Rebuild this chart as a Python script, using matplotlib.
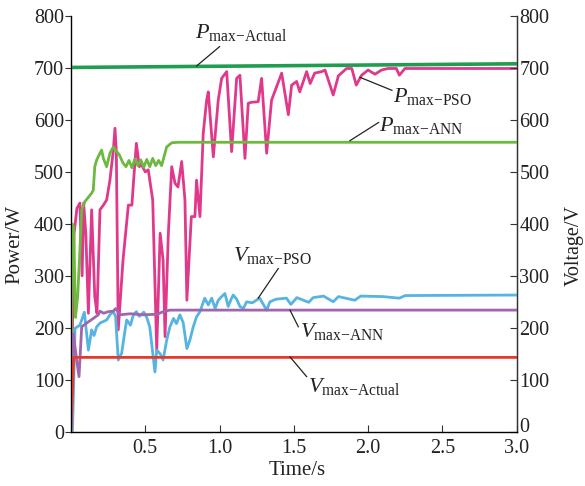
import matplotlib
matplotlib.use("Agg")
import matplotlib.pyplot as plt
import numpy as np

plt.rcParams['font.family'] = ['Liberation Serif', 'DejaVu Serif']
plt.rcParams['mathtext.fontset'] = 'custom'
plt.rcParams['mathtext.rm'] = 'Liberation Serif'
plt.rcParams['mathtext.it'] = 'Liberation Serif:italic'

# ---- data (time in s, values in W / V) ----
p_actual_t = [0.0, 3.0]
p_actual_v = [701, 708]

p_ann_t = [0.0, 0.008, 0.018, 0.03, 0.045, 0.06, 0.072, 0.094, 0.139, 0.15, 0.16, 0.173, 0.195, 0.206,
           0.218, 0.24, 0.262, 0.285, 0.30, 0.325, 0.35, 0.37, 0.39, 0.41, 0.43, 0.45, 0.47, 0.49,
           0.51, 0.53, 0.55, 0.57, 0.59, 0.61, 0.644, 0.678, 0.72, 3.0]
p_ann_v = [0, 400, 395, 220, 260, 350, 427, 443, 459, 465, 510, 523, 536, 542,
           526, 510, 536, 548, 542, 533, 517, 510, 522, 508, 525, 512, 523, 509,
           524, 510, 526, 512, 522, 512, 548, 556, 557, 557]

p_pso_t = [0.0, 0.01, 0.02, 0.04, 0.06, 0.075, 0.085, 0.1, 0.117, 0.139, 0.16, 0.175, 0.195, 0.218,
           0.24, 0.262, 0.285, 0.296, 0.305, 0.318, 0.35, 0.386, 0.41, 0.42, 0.44, 0.46, 0.47, 0.5,
           0.52, 0.55, 0.577, 0.6, 0.62, 0.633, 0.655, 0.678, 0.70, 0.72, 0.745, 0.767, 0.78, 0.81,
           0.834, 0.845, 0.868, 0.89, 0.913, 0.924, 0.958, 0.991, 1.014, 1.048, 1.081, 1.115, 1.137,
           1.171, 1.193, 1.215, 1.26, 1.283, 1.317, 1.35, 1.384, 1.418, 1.463, 1.485, 1.519, 1.54,
           1.586, 1.61, 1.64, 1.687, 1.71, 1.765, 1.8, 1.855, 1.89, 1.92, 1.956, 2.0, 2.046, 2.09,
           2.135, 2.19, 2.21, 2.248, 3.0]
p_pso_v = [0, 200, 380, 430, 440, 300, 440, 380, 228, 427, 260, 228, 427, 436,
           446, 484, 542, 584, 540, 196, 330, 436, 436, 478, 555, 510, 516, 500,
           504, 446, 157, 382, 330, 183, 380, 510, 478, 471, 520, 446, 253, 414,
           414, 484, 414, 574, 638, 654, 529, 638, 680, 693, 539, 680, 686,
           526, 632, 634, 635, 680, 536, 638, 664, 690, 610, 667, 674, 654,
           693, 670, 690, 693, 696, 648, 685, 699, 699, 667, 686, 696, 688, 696,
           699, 699, 686, 699, 699]

v_pso_t = [0.01, 0.027, 0.06, 0.09, 0.117, 0.139, 0.155, 0.173, 0.195, 0.24, 0.262, 0.285, 0.30,
           0.318, 0.341, 0.364, 0.375, 0.40, 0.42, 0.44, 0.46, 0.49, 0.51, 0.53, 0.565, 0.577,
           0.60, 0.62, 0.644, 0.666, 0.69, 0.71, 0.733, 0.755, 0.78, 0.80, 0.823, 0.845, 0.868,
           0.9, 0.924, 0.947, 0.97, 0.991, 1.014, 1.036, 1.058, 1.081, 1.092, 1.115, 1.137, 1.16,
           1.182, 1.22, 1.27, 1.317, 1.339, 1.38, 1.45, 1.48, 1.52, 1.6, 1.63, 1.7, 1.765, 1.8,
           1.91, 1.95, 2.1, 2.21, 2.25, 3.0]
v_pso_v = [0, 199, 205, 230, 157, 196, 185, 202, 209, 215, 225, 231, 222,
           138, 151, 196, 215, 205, 225, 231, 222, 230, 220, 202, 115, 157,
           150, 138, 176, 202, 218, 208, 225, 210, 160, 176, 202, 221, 231,
           257, 244, 257, 237, 253, 260, 266, 241, 257, 263, 255, 241, 237,
           250, 248, 257, 234, 250, 255, 257, 245, 258, 249, 258, 261, 250, 260,
           253, 261, 260, 257, 262, 263]

v_ann_t = [0.0, 0.016, 0.038, 0.054, 0.072, 0.105, 0.15, 0.184, 0.195, 0.22, 0.251, 0.285, 0.30,
           0.33, 0.40, 0.48, 0.58, 0.62, 0.666, 3.0]
v_ann_v = [0, 189, 138, 106, 202, 209, 218, 225, 232, 228, 231, 232, 237,
           225, 227, 225, 226, 231, 234, 234]

v_actual_t = [0.0, 0.018, 3.0]
v_actual_v = [0, 143, 143]

x_ticks = [0.5, 1.0, 1.5, 2.0, 2.5, 3.0]
x_tick_labels = ['0.5', '1.0', '1.5', '2.0', '2.5', '3.0']
y_ticks = [0, 100, 200, 300, 400, 500, 600, 700, 800]
y_tick_labels = ['0', '100', '200', '300', '400', '500', '600', '700', '800']

# ---- figure ----
fig = plt.figure(figsize=(5.85, 4.86), dpi=100)
ax = fig.add_axes([71/585, 1-431.7/486, (516.7-71)/585, (431.7-16)/486])

lw = 2.0
ax.plot(p_actual_t, p_actual_v, color='#1f9e50', lw=2.6, zorder=3)
ax.plot(p_ann_t, p_ann_v, color='#6db83f', lw=lw, zorder=3)
ax.plot(p_pso_t, p_pso_v, color='#e0398b', lw=lw, zorder=2)
ax.plot(v_pso_t, v_pso_v, color='#56b4e3', lw=lw, zorder=3)
ax.plot(v_ann_t, v_ann_v, color='#a066ad', lw=lw, zorder=4)
ax.plot(v_actual_t, v_actual_v, color='#e43a2e', lw=lw, zorder=4)

ax.set_xlim(0, 3.0)
ax.set_ylim(0, 800)
ax.set_xticks(x_ticks)
ax.set_xticklabels(x_tick_labels)
ax.set_yticks(y_ticks)
ax.set_yticklabels(y_tick_labels)
ax.spines['top'].set_visible(False)
for s in ['left', 'right', 'bottom']:
    ax.spines[s].set_color('#333333')
    ax.spines[s].set_linewidth(1.0)
fs = 14.5
ax.tick_params(axis='x', direction='in', length=5, labelsize=fs, pad=5, colors='#333333', labelcolor='#222222')
ax.tick_params(axis='y', direction='out', length=4, labelsize=fs, pad=1, colors='#333333', labelcolor='#222222')

ax2 = ax.twinx()
ax2.set_ylim(0, 800)
ax2.set_yticks(y_ticks)
# the right-hand "0" sits slightly above the axis line; it is placed separately below
ax2.set_yticklabels([''] + y_tick_labels[1:])
ax2.tick_params(axis='y', direction='in', length=5, labelsize=fs, pad=2, colors='#333333', labelcolor='#222222')
ax2.spines['top'].set_visible(False)
ax2.spines['right'].set_color('#333333')
fig.text(519/585, 1-427/486, y_tick_labels[0], ha='left', va='center', fontsize=fs, color='#222222')

fig.text(15/585, 1-245/486, 'Power/W', rotation=90, ha='center', va='center', fontsize=15, color='#222222')
fig.text(574/585, 1-245/486, 'Voltage/V', rotation=90, ha='center', va='center', fontsize=14.5, color='#222222')
fig.text(297/585, 1-470/486, 'Time/s', ha='center', va='center', fontsize=15, color='#222222')

# ---- annotations ----
def lab2(sym, sub, text_xy, p0, p1):
    ax.text(text_xy[0], text_xy[1], r'$\mathit{%s}_{\mathrm{max}{-}\mathrm{%s}}$' % (sym, sub),
            ha='left', va='center', fontsize=16, color='#222222')
    ax.plot([p0[0], p1[0]], [p0[1], p1[1]], color='#222222', lw=0.9, zorder=6)

lab2('P', 'Actual', (0.834, 768), (0.846, 704), (1.0, 741))
lab2('P', 'PSO', (2.17, 645), (1.945, 682), (2.16, 657))
lab2('P', 'ANN', (2.07, 590), (1.877, 560), (2.07, 595))
lab2('V', 'PSO', (1.09, 340), (1.26, 257), (1.395, 314))
lab2('V', 'ANN', (1.54, 192), (1.474, 234), (1.53, 202))
lab2('V', 'Actual', (1.595, 87), (1.474, 144), (1.586, 106))

fig.savefig('out.png', dpi=100)
